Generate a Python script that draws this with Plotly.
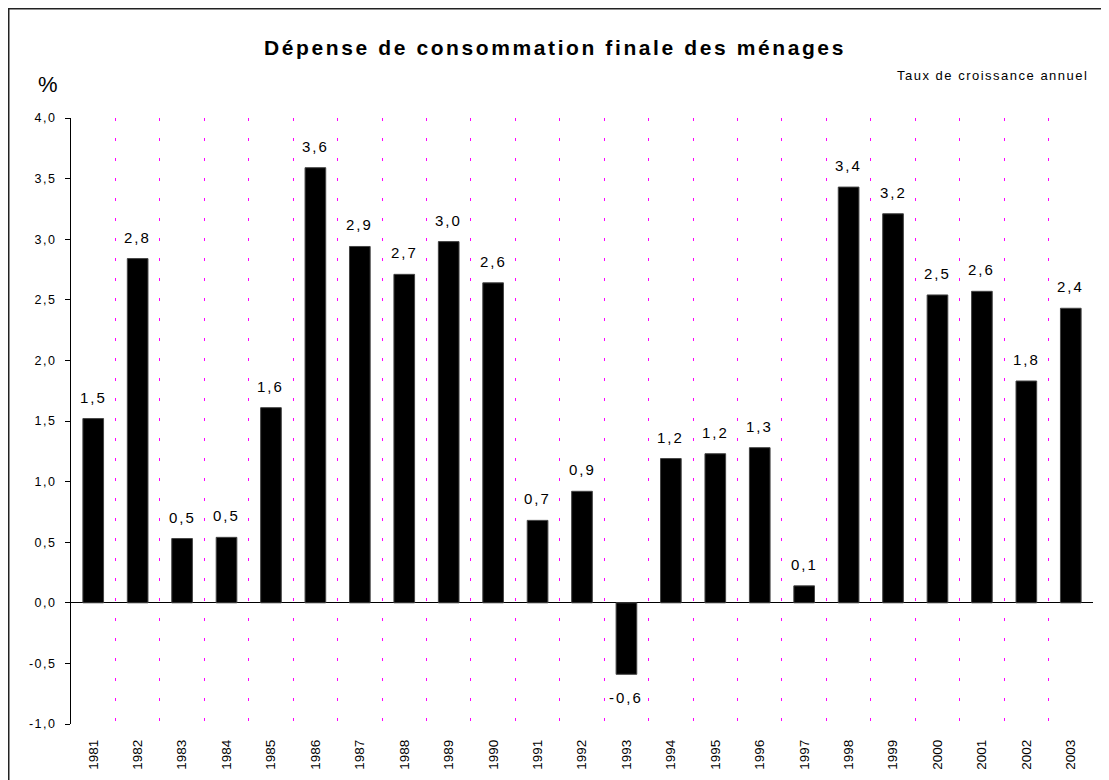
import plotly.graph_objects as go

years = [str(y) for y in range(1981, 2004)]
growth = [1.52, 2.84, 0.53, 0.54, 1.61, 3.59, 2.94, 2.71, 2.98, 2.64, 0.68, 0.92,
          -0.59, 1.19, 1.23, 1.28, 0.14, 3.43, 3.21, 2.54, 2.57, 1.83, 2.43]
y_range = [-1.0, 4.0]
y_step = 0.5

W, H = 1109, 780
ml, mr, mt, mb = 63, 24, 110, 64
pw = W - ml - mr
ph = H - mt - mb

font = "Liberation Sans, Arial, sans-serif"


def spaced(txt, px):
    return f"<span style='letter-spacing:{px}px'>{txt}</span>"


def fr(v):
    return f"{v:.1f}".replace(".", ",")


fig = go.Figure()
fig.add_trace(go.Bar(
    x=years, y=growth,
    marker=dict(color="black", line=dict(color="#444444", width=1)),
    showlegend=False, hoverinfo="x+y",
))

# etiquettes de valeurs (x = rang de la catégorie, sinon "1981" est lu comme un nombre)
labels = []
for i, v in enumerate(growth):
    labels.append(dict(
        x=i, y=v, xref="x", yref="y",
        text=spaced(fr(v), 2),
        showarrow=False,
        yanchor="bottom" if v >= 0 else "top",
        yshift=11 if v >= 0 else -13,
        font=dict(family=font, size=15, color="black"),
    ))

# graduations de l'axe des y
n_ticks = int(round((y_range[1] - y_range[0]) / y_step)) + 1
y_ticks = [y_range[0] + k * y_step for k in range(n_ticks)]
y_text = [spaced(fr(t), 1.5) for t in y_ticks]

# bornes des catégories pour les petits traits sur la ligne du zéro
bounds = [i - 0.5 for i in range(len(years) + 1)]
zero_pos = -y_range[0] / (y_range[1] - y_range[0])
x_range = [-0.5, len(years) - 0.5]

fig.update_layout(
    width=W, height=H,
    margin=dict(l=ml, r=mr, t=mt, b=mb),
    paper_bgcolor="white", plot_bgcolor="white",
    bargap=0.535,
    font=dict(family=font, color="black"),
    title=dict(
        text="<b>" + spaced("Dépense de consommation finale des ménages", 2.6) + "</b>",
        x=547 / W, xref="container", xanchor="center",
        y=1 - 40 / H, yref="container", yanchor="middle",
        font=dict(family=font, size=21, color="black"),
    ),
    xaxis=dict(
        type="category", categoryorder="array", categoryarray=years,
        range=x_range, autorange=False,
        tickson="boundaries", ticks="", tickangle=-90,
        ticklabelstandoff=12,
        tickfont=dict(family=font, size=13.5, color="black"),
        showgrid=True, gridcolor="#FF00FF", gridwidth=1, griddash="3px,17px",
        showline=False, zeroline=False,
    ),
    xaxis2=dict(
        type="linear", overlaying="x", anchor="free", position=zero_pos,
        range=x_range, autorange=False,
        tickmode="array", tickvals=bounds, ticks="outside", ticklen=5,
        tickcolor="black", tickwidth=1, showticklabels=False,
        showgrid=False, zeroline=False, showline=False,
    ),
    xaxis3=dict(
        type="linear", overlaying="x", anchor="free", position=zero_pos,
        range=x_range, autorange=False,
        tickmode="array", tickvals=bounds, ticks="inside", ticklen=5,
        tickcolor="black", tickwidth=1, showticklabels=False,
        showgrid=False, zeroline=False, showline=False,
    ),
    yaxis=dict(
        range=y_range, autorange=False,
        tickmode="array", tickvals=y_ticks, ticktext=y_text,
        ticks="outside", ticklen=5, tickcolor="black",
        ticklabelstandoff=6,
        tickfont=dict(family=font, size=12.5, color="black"),
        showline=True, linecolor="black", linewidth=1,
        showgrid=False, zeroline=True, zerolinecolor="black", zerolinewidth=1,
    ),
    yaxis2=dict(
        overlaying="y", anchor="free", position=0,
        range=y_range, autorange=False,
        tickmode="array", tickvals=y_ticks,
        ticks="inside", ticklen=5, tickcolor="black",
        showticklabels=False, showgrid=False, zeroline=False, showline=False,
    ),
    annotations=labels + [
        dict(text="%", xref="paper", yref="paper",
             x=(40 - ml) / pw, y=(H - mb - 77) / ph,
             xanchor="center", yanchor="middle", showarrow=False,
             font=dict(family=font, size=22, color="black")),
        dict(text=spaced("Taux de croissance annuel", 1.5), xref="paper", yref="paper",
             x=(1082 - ml) / pw, y=(H - mb - 67) / ph,
             xanchor="right", yanchor="middle", showarrow=False,
             font=dict(family=font, size=13, color="black")),
    ],
    shapes=[
        dict(type="rect", xref="paper", yref="paper",
             x0=(0.5 - ml) / pw, x1=1.2, y0=-0.3, y1=(H - mb - 0.5) / ph,
             line=dict(color="#222222", width=2), fillcolor="rgba(0,0,0,0)",
             layer="below"),
    ],
)

fig.write_html("out.html")
